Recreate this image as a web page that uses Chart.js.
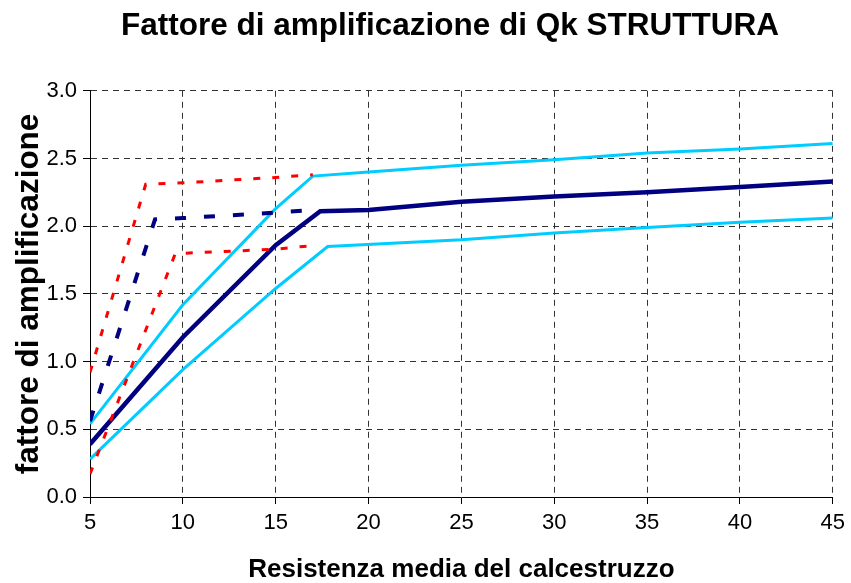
<!DOCTYPE html>
<html lang="it">
<head>
<meta charset="UTF-8">
<title>Fattore di amplificazione di Qk STRUTTURA</title>
<script src="https://cdn.jsdelivr.net/npm/chart.js"></script>
<style>
    html, body { margin: 0; padding: 0; background: #fff; }
    #wrap { width: 851px; height: 583px; }
</style>
</head>
<body>
<div id="wrap"><canvas id="chart"></canvas></div>
<script>
// resistenza media (x) e fattore di amplificazione (y) per ogni curva
const xMedia = [5, 10, 15, 17.4, 20, 25, 30, 35, 40, 45];
const yMedia = [0.39, 1.18, 1.86, 2.11, 2.12, 2.18, 2.22, 2.25, 2.29, 2.33];

const xSup = [5, 10, 15, 17, 20, 25, 30, 35, 40, 45];
const ySup = [0.54, 1.42, 2.13, 2.37, 2.40, 2.45, 2.49, 2.54, 2.57, 2.61];

const xInf = [5, 10, 15, 17.8, 25, 30, 35, 40, 45];
const yInf = [0.28, 0.94, 1.54, 1.85, 1.90, 1.95, 1.99, 2.03, 2.06];

const xTratt = [5, 8.5, 10, 15, 17];
const yTratt = [0.56, 2.05, 2.06, 2.10, 2.12];

const xRossoSup = [5, 8, 10, 15, 17];
const yRossoSup = [0.92, 2.31, 2.32, 2.36, 2.38];

const xRossoInf = [5, 9.6, 10, 15, 17.2];
const yRossoInf = [0.17, 1.80, 1.80, 1.83, 1.86];

function pts(xs, ys) {
    return xs.map((x, i) => ({ x: x, y: ys[i] }));
}

function serie(xs, ys, colore, spessore, dash) {
    return {
        data: pts(xs, ys),
        borderColor: colore,
        backgroundColor: colore,
        borderWidth: spessore,
        borderDash: dash,
        pointRadius: 0,
        showLine: true,
        tension: 0,
        borderCapStyle: 'butt'
    };
}

const FONT = "'Liberation Sans', Arial, sans-serif";

// sposta il titolo verso destra, centrato sopra l'area del grafico
const titoloCentrato = {
    id: 'titoloCentrato',
    afterLayout(chart) {
        if (chart.titleBlock) {
            chart.titleBlock.left = 66;
        }
    }
};

new Chart(document.getElementById('chart'), {
    type: 'scatter',
    data: {
        datasets: [
            serie(xRossoSup, yRossoSup, '#FF0000', 3, [7, 12]),
            serie(xRossoInf, yRossoInf, '#FF0000', 3, [7, 12]),
            serie(xTratt, yTratt, '#000080', 4, [11, 18]),
            serie(xSup, ySup, '#00CCFF', 3, []),
            serie(xInf, yInf, '#00CCFF', 3, []),
            serie(xMedia, yMedia, '#000080', 4.5, [])
        ]
    },
    options: {
        responsive: true,
        maintainAspectRatio: false,
        animation: false,
        layout: { padding: { left: 0, right: 17, top: 0, bottom: 0 } },
        plugins: {
            legend: { display: false },
            tooltip: { enabled: false },
            title: {
                display: true,
                text: 'Fattore di amplificazione di Qk STRUTTURA',
                color: '#000',
                font: { family: FONT, size: 31.5, weight: 'bold', lineHeight: 1.2 },
                padding: { top: 7, bottom: 46 }
            }
        },
        scales: {
            x: {
                type: 'linear',
                min: 5,
                max: 45,
                ticks: {
                    stepSize: 5,
                    color: '#000',
                    font: { family: FONT, size: 22 },
                    padding: 6
                },
                grid: {
                    color: '#333',
                    lineWidth: 1,
                    tickLength: 7,
                    tickColor: '#000',
                    tickBorderDash: []
                },
                border: { display: true, color: '#000', width: 1, dash: [6, 5] },
                title: {
                    display: true,
                    text: 'Resistenza media del calcestruzzo',
                    color: '#000',
                    font: { family: FONT, size: 26, weight: 'bold', lineHeight: 1 },
                    padding: { top: 0, bottom: 0 }
                },
                afterFit: s => { s.height = 86; }
            },
            y: {
                min: 0,
                max: 3,
                ticks: {
                    stepSize: 0.5,
                    color: '#000',
                    font: { family: FONT, size: 22 },
                    padding: 6,
                    callback: v => v.toFixed(1)
                },
                grid: {
                    color: '#333',
                    lineWidth: 1,
                    tickLength: 7,
                    tickColor: '#000',
                    tickBorderDash: []
                },
                border: { display: true, color: '#000', width: 1, dash: [6, 5] },
                title: {
                    display: true,
                    text: 'fattore di amplificazione',
                    color: '#000',
                    font: { family: FONT, size: 31.5, weight: 'bold', lineHeight: 1.1 },
                    padding: { top: 12, bottom: 0 }
                },
                afterFit: s => { s.width = 90; }
            }
        }
    },
    plugins: [titoloCentrato]
});
</script>
</body>
</html>
